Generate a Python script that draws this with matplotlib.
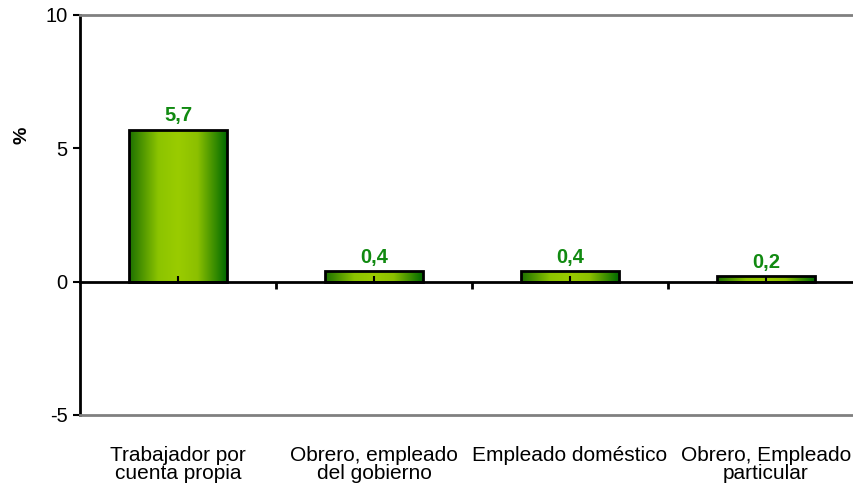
import matplotlib
matplotlib.use("Agg")
import matplotlib.pyplot as plt
import numpy as np
from matplotlib.colors import LinearSegmentedColormap

categories = ["Trabajador por\ncuenta propia", "Obrero, empleado\ndel gobierno",
              "Empleado doméstico", "Obrero, Empleado\nparticular"]
values = [5.7, 0.4, 0.4, 0.2]
value_labels = ["5,7", "0,4", "0,4", "0,2"]
yticks = [-5, 0, 5, 10]

plt.rcParams['font.family'] = ['Liberation Sans', 'DejaVu Sans']

fig = plt.figure(figsize=(8.54, 4.84), dpi=100)
W, H = 854, 484
left, right, top, bottom = 80, 864, 15, 415
ax = fig.add_axes([left / W, 1 - bottom / H, (right - left) / W, (bottom - top) / H])

x = np.arange(len(categories))
bars = ax.bar(x, values, width=0.5, facecolor='none', edgecolor='black', linewidth=2, zorder=3)

cmap = LinearSegmentedColormap.from_list(
    "g", [(0.0, "#1c7000"), (0.3, "#8cc400"), (0.5, "#9acc00"), (0.7, "#8cc000"), (1.0, "#006a00")])
grad = np.linspace(0, 1, 256).reshape(1, -1)
for b in bars:
    bx, by = b.get_x(), b.get_y()
    bw, bh = b.get_width(), b.get_height()
    im = ax.imshow(grad, cmap=cmap, aspect='auto', extent=[bx, bx + bw, by, by + bh],
                   zorder=2, interpolation='bilinear')
    im.set_clip_path(b)

for xi, v, lab in zip(x, values, value_labels):
    ax.annotate(lab, (xi, v), xytext=(0, 3), textcoords='offset points', ha='center', va='bottom',
                fontsize=14.5, fontweight='bold', color='#118a11', zorder=5)

ax.set_xlim(-0.5, len(categories) - 0.5)
ax.set_ylim(-5, 10)
ax.set_yticks(yticks)
ax.set_yticklabels([str(t) for t in yticks], fontsize=14.5)
ax.tick_params(axis='y', direction='out', length=5, width=1.5, pad=4)
fig.text(22 / W, 1 - 135 / H, '%', rotation=90, fontsize=14, fontweight='bold',
         ha='center', va='center')

ax.set_xticks(x)
ax.set_xticklabels(categories, fontsize=15, linespacing=0.95)
ax.tick_params(axis='x', length=0, pad=22)

for s in ['top', 'bottom', 'right']:
    ax.spines[s].set_color('#808080')
    ax.spines[s].set_linewidth(2)
ax.spines['left'].set_color('black')
ax.spines['left'].set_linewidth(2)

# zero axis with category boundary ticks
sec = ax.secondary_xaxis(1 / 3)
sec.set_zorder(4)
sec.spines['bottom'].set_linewidth(2)
sec.spines['bottom'].set_color('black')
sec.set_xticks(np.arange(0.5, len(categories) - 0.5, 1.0))
sec.set_xticklabels([])
sec.tick_params(axis='x', direction='out', length=5, width=2)
sec.set_xticks(x, minor=True)
sec.tick_params(axis='x', which='minor', direction='in', length=4, width=1.5)

fig.savefig("out.png", dpi=100)
